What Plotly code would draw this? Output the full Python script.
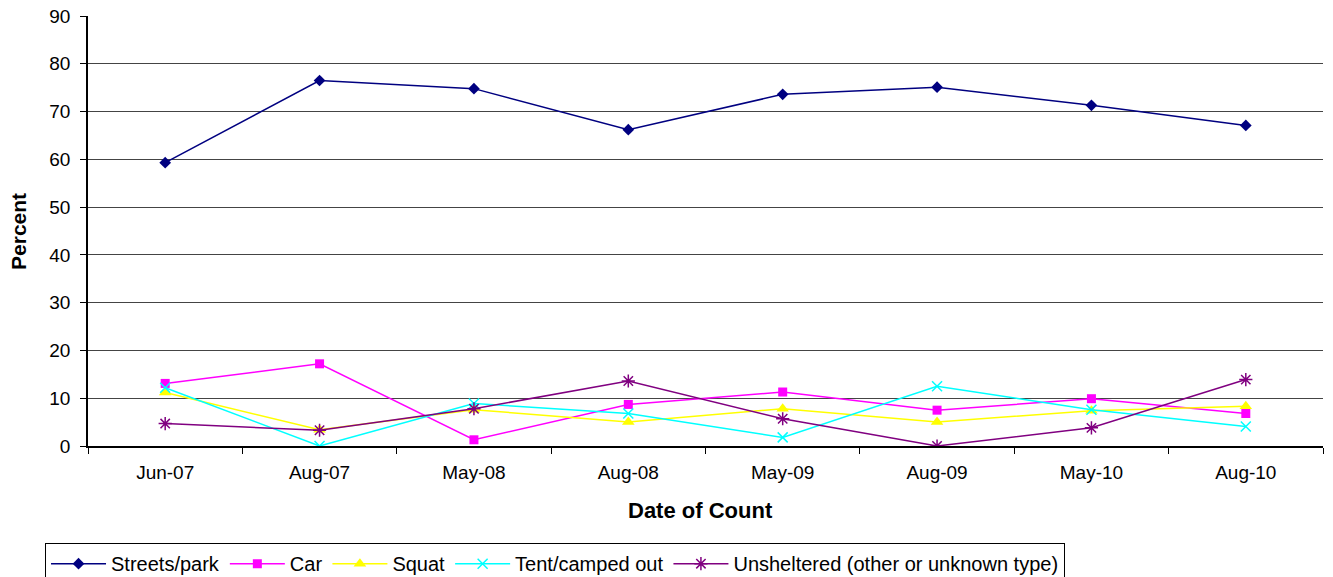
import plotly.graph_objects as go

categories = ["Jun-07", "Aug-07", "May-08", "Aug-08", "May-09", "Aug-09", "May-10", "Aug-10"]
streets_park = [59.3, 76.5, 74.8, 66.2, 73.6, 75.1, 71.3, 67.1]
car = [13.1, 17.2, 1.3, 8.7, 11.3, 7.5, 9.9, 6.8]
squat = [11.2, 3.4, 7.6, 5.0, 7.8, 5.0, 7.4, 8.3]
tent = [12.2, 0.0, 8.9, 6.8, 1.8, 12.5, 7.6, 4.1]
unsheltered = [4.7, 3.3, 7.8, 13.6, 5.7, 0.0, 3.8, 13.9]

series = [
    ("Streets/park", streets_park, "#000080", "diamond", 9),
    ("Car", car, "#FF00FF", "square", 9),
    ("Squat", squat, "#FFFF00", "triangle-up", 11),
    ("Tent/camped out", tent, "#00FFFF", "x-thin", 10),
    ("Unsheltered (other or unknown type)", unsheltered, "#800080", "asterisk", 11),
]

fig = go.Figure()
for name, vals, color, sym, size in series:
    open_sym = sym in ("x-thin", "asterisk")
    fig.add_trace(go.Scatter(
        x=categories, y=vals, name=name, mode="lines+markers",
        line=dict(color=color, width=1.5),
        marker=dict(symbol=sym, size=size, color=color,
                    line=dict(color=color, width=1.5 if open_sym else 0)),
    ))

font_family = "Liberation Sans, Arial, sans-serif"
fig.update_layout(
    width=1333, height=577,
    margin=dict(l=88, r=10, t=16, b=131, autoexpand=False),
    paper_bgcolor="white", plot_bgcolor="white",
    font=dict(family=font_family, size=19, color="black"),
    showlegend=True,
    legend=dict(orientation="h", x=-0.0348, xanchor="left", y=-0.226, yanchor="top",
                bordercolor="black", borderwidth=1, font=dict(size=20),
                itemwidth=55, tracegroupgap=0),
    xaxis=dict(
        type="category", showline=True, linecolor="black", linewidth=1.5,
        ticks="outside", tickson="boundaries", ticklen=6, tickcolor="black",
        showgrid=False, tickfont=dict(size=19), ticklabelstandoff=8,
        range=[-0.5, 7.5], automargin=False, ticklabeloverflow="allow",
    ),
    yaxis=dict(
        range=[0, 90.001], tickvals=[0, 10, 20, 30, 40, 50, 60, 70, 80, 90],
        showline=True, linecolor="black", linewidth=1.5,
        ticks="outside", ticklen=6, tickcolor="black",
        showgrid=True, gridcolor="#444444", gridwidth=1,
        tickfont=dict(size=19), zeroline=False, ticklabelstandoff=6,
        automargin=False, ticklabeloverflow="allow",
    ),
    annotations=[
        dict(text="<b>Date of Count</b>", xref="paper", yref="paper",
             x=0.496, y=-0.151, xanchor="center", yanchor="middle",
             showarrow=False, font=dict(size=22)),
        dict(text="<b>Percent</b>", xref="paper", yref="paper",
             x=-0.0567, y=0.5, xanchor="center", yanchor="middle",
             textangle=-90, showarrow=False, font=dict(size=21)),
    ],
)

fig.write_html("out.html", config={"displayModeBar": False},
               post_script="document.body.style.margin='0';document.body.style.overflow='hidden';")
